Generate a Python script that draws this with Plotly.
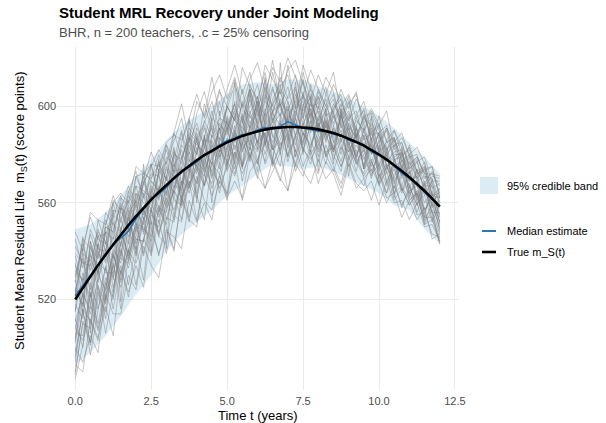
import plotly.graph_objects as go

# ---------------- data ----------------
t_grid = [0.0, 0.25, 0.5, 0.75, 1.0, 1.25, 1.5, 1.75, 2.0, 2.25, 2.5, 2.75,
          3.0, 3.25, 3.5, 3.75, 4.0, 4.25, 4.5, 4.75, 5.0, 5.25, 5.5, 5.75,
          6.0, 6.25, 6.5, 6.75, 7.0, 7.25, 7.5, 7.75, 8.0, 8.25, 8.5, 8.75,
          9.0, 9.25, 9.5, 9.75, 10.0, 10.25, 10.5, 10.75, 11.0, 11.25, 11.5,
          11.75, 12.0]

true_mrl = [520.0, 524.9, 529.7, 534.2, 538.6, 542.8, 546.9, 550.7, 554.4, 557.9,
            561.3, 564.4, 567.4, 570.2, 572.9, 575.3, 577.6, 579.7, 581.7, 583.4,
            585.0, 586.4, 587.7, 588.7, 589.6, 590.3, 590.9, 591.2, 591.4, 591.4,
            591.3, 590.9, 590.4, 589.7, 588.9, 587.8, 586.6, 585.2, 583.7, 581.9,
            580.0, 577.9, 575.7, 573.2, 570.6, 567.8, 564.9, 561.7, 558.4]

median_est = [521.5, 525.9, 530.2, 534.2, 538.1, 543.1, 545.4, 548.2, 553.4, 557.4,
              561.5, 563.6, 566.4, 569.9, 573.3, 574.8, 576.8, 579.9, 581.0, 583.9,
              585.8, 586.7, 588.3, 588.3, 590.1, 591.1, 590.6, 591.6, 593.6, 592.2,
              591.0, 590.4, 589.6, 589.9, 588.4, 588.1, 586.0, 585.0, 584.0, 581.1,
              579.7, 578.1, 575.2, 572.3, 570.2, 568.1, 564.3, 561.5, 558.7]

t_band = [0.0, 0.5, 1.0, 1.5, 2.0, 2.5, 3.0, 3.5, 4.0, 4.5, 5.0, 5.5, 6.0, 6.5,
          7.0, 7.5, 8.0, 8.5, 9.0, 9.5, 10.0, 10.5, 11.0, 11.5, 12.0]
band_lower = [493, 498, 505, 513, 522, 530, 540, 547, 552, 557, 563, 567, 572, 576,
              575, 574, 575, 573, 570, 567, 564, 559, 557, 549, 543]
band_upper = [549, 551, 556, 563, 571, 578, 586, 592, 596, 600, 605, 609, 610, 609,
              611, 611, 608, 606, 603, 600, 596, 591, 585, 579, 572]

draw_01 = [525, 517, 542, 531, 548, 529, 549, 558, 548, 569, 559, 555, 571, 583, 568, 576, 568, 586, 585, 576, 595, 585, 596, 577, 595, 604, 587, 593, 583, 600, 588, 597, 579, 594, 587, 598, 581, 588, 575, 589, 581, 573, 584, 570, 575, 561, 567, 567, 554]
draw_02 = [502, 519, 510, 530, 524, 541, 535, 554, 545, 544, 566, 558, 556, 572, 565, 584, 574, 567, 588, 581, 596, 589, 583, 605, 592, 583, 603, 609, 588, 599, 605, 589, 600, 585, 596, 589, 579, 591, 581, 591, 574, 580, 566, 578, 569, 571, 557, 563, 552]
draw_03 = [542, 535, 534, 549, 540, 552, 542, 563, 557, 551, 569, 565, 577, 566, 579, 566, 581, 591, 580, 591, 579, 590, 601, 590, 599, 587, 598, 581, 596, 593, 585, 602, 593, 586, 597, 586, 592, 578, 590, 581, 589, 575, 580, 580, 566, 574, 566, 559, 566]
draw_04 = [512, 500, 527, 516, 529, 521, 548, 537, 551, 550, 544, 566, 558, 565, 560, 578, 572, 588, 570, 587, 582, 596, 581, 591, 602, 585, 597, 592, 600, 587, 606, 594, 582, 597, 586, 577, 589, 579, 588, 573, 581, 584, 569, 575, 567, 559, 568, 556, 556]
draw_05 = [530, 543, 532, 542, 553, 542, 553, 543, 564, 560, 556, 573, 570, 564, 584, 579, 575, 587, 598, 585, 594, 582, 593, 607, 598, 611, 594, 603, 598, 607, 592, 601, 594, 603, 588, 594, 598, 587, 593, 580, 585, 590, 577, 581, 574, 578, 563, 569, 569]
draw_06 = [490, 510, 508, 526, 512, 538, 531, 540, 552, 539, 555, 552, 568, 555, 569, 566, 583, 567, 579, 585, 574, 590, 582, 587, 576, 593, 582, 586, 595, 579, 589, 584, 593, 580, 585, 590, 578, 584, 578, 585, 570, 575, 577, 565, 573, 562, 553, 559, 550]
draw_07 = [523, 537, 524, 553, 543, 554, 563, 549, 567, 565, 562, 578, 564, 578, 590, 577, 589, 576, 588, 602, 590, 601, 589, 598, 584, 598, 608, 595, 617, 599, 602, 590, 604, 596, 598, 585, 595, 598, 586, 589, 592, 577, 581, 582, 569, 572, 574, 563, 564]
draw_08 = [508, 523, 514, 527, 541, 525, 538, 555, 541, 557, 551, 567, 553, 566, 575, 564, 577, 573, 583, 574, 587, 574, 585, 594, 585, 589, 578, 593, 584, 595, 582, 592, 586, 576, 592, 582, 591, 577, 582, 570, 582, 569, 575, 577, 564, 569, 560, 565, 548]
draw_09 = [535, 521, 538, 535, 532, 549, 559, 546, 556, 568, 576, 561, 574, 571, 564, 587, 584, 581, 576, 593, 588, 599, 594, 584, 604, 592, 598, 601, 589, 596, 611, 597, 591, 599, 605, 592, 583, 595, 589, 583, 575, 586, 579, 567, 577, 570, 575, 558, 561]
draw_10 = [498, 515, 502, 520, 533, 523, 544, 536, 546, 557, 549, 559, 551, 567, 566, 576, 564, 578, 573, 568, 584, 578, 589, 579, 586, 577, 592, 584, 589, 575, 586, 594, 581, 589, 578, 586, 581, 588, 574, 578, 567, 575, 569, 558, 567, 559, 566, 555, 545]
draw_11 = [527, 545, 541, 537, 556, 551, 548, 564, 573, 562, 570, 580, 569, 580, 578, 589, 585, 579, 593, 586, 600, 594, 607, 591, 602, 596, 614, 600, 593, 605, 595, 609, 597, 591, 599, 603, 592, 587, 596, 588, 589, 592, 578, 579, 583, 572, 573, 575, 562]
draw_12 = [515, 531, 518, 543, 535, 546, 530, 544, 560, 547, 563, 546, 561, 574, 561, 572, 586, 572, 584, 578, 591, 577, 591, 588, 600, 584, 595, 580, 599, 588, 593, 581, 596, 588, 581, 593, 584, 573, 588, 577, 586, 568, 578, 571, 579, 562, 568, 553, 563]
draw_13 = [506, 505, 523, 510, 527, 539, 528, 550, 539, 552, 563, 554, 562, 553, 574, 567, 574, 587, 571, 582, 577, 592, 574, 592, 585, 599, 588, 582, 597, 592, 584, 599, 588, 594, 582, 587, 596, 580, 585, 575, 584, 576, 568, 576, 565, 567, 556, 564, 555]
draw_14 = [545, 533, 547, 537, 551, 563, 553, 561, 553, 573, 569, 565, 579, 575, 582, 573, 591, 584, 592, 584, 582, 597, 593, 603, 593, 608, 600, 596, 604, 613, 597, 593, 606, 598, 592, 599, 588, 592, 599, 585, 588, 579, 587, 578, 572, 577, 568, 573, 564]
draw_15 = [518, 512, 535, 525, 519, 540, 537, 535, 550, 549, 546, 557, 571, 561, 559, 574, 568, 583, 576, 591, 576, 584, 576, 590, 582, 592, 585, 595, 577, 588, 596, 580, 586, 592, 582, 596, 585, 576, 580, 584, 572, 564, 572, 574, 561, 565, 551, 557, 547]
draw_16 = [532, 528, 549, 541, 540, 557, 556, 553, 571, 563, 572, 571, 563, 581, 576, 591, 586, 592, 583, 589, 600, 594, 591, 600, 609, 595, 601, 606, 595, 602, 598, 604, 591, 598, 603, 591, 597, 591, 583, 593, 588, 582, 586, 574, 580, 573, 567, 571, 570]
draw_17 = [494, 516, 511, 503, 527, 520, 540, 533, 545, 544, 558, 548, 559, 569, 562, 569, 562, 576, 573, 584, 573, 581, 575, 586, 581, 589, 575, 585, 580, 588, 583, 576, 588, 581, 583, 575, 583, 577, 571, 577, 571, 576, 564, 567, 561, 564, 554, 554, 543]
draw_18 = [521, 539, 536, 531, 548, 545, 562, 559, 552, 564, 557, 574, 584, 573, 574, 585, 593, 583, 595, 592, 589, 602, 598, 596, 591, 602, 598, 607, 602, 592, 604, 600, 601, 588, 601, 595, 602, 588, 595, 592, 582, 591, 582, 585, 575, 579, 572, 561, 563]
draw_19 = [511, 522, 516, 540, 531, 531, 543, 553, 543, 553, 565, 556, 565, 557, 568, 581, 575, 571, 586, 579, 586, 579, 597, 583, 592, 580, 592, 597, 586, 595, 581, 593, 598, 587, 590, 580, 593, 586, 575, 587, 576, 579, 570, 580, 573, 563, 569, 559, 559]
draw_20 = [538, 526, 539, 548, 544, 537, 558, 555, 561, 571, 560, 572, 577, 589, 579, 586, 580, 594, 587, 595, 593, 587, 602, 595, 600, 606, 593, 602, 597, 600, 604, 595, 607, 600, 593, 601, 589, 594, 590, 595, 581, 585, 587, 577, 580, 569, 571, 570, 560]
draw_21 = [503, 529, 521, 533, 518, 535, 550, 538, 548, 563, 552, 550, 564, 576, 563, 570, 587, 574, 568, 581, 592, 576, 587, 582, 598, 587, 582, 594, 579, 598, 589, 583, 595, 579, 591, 584, 577, 589, 579, 571, 583, 572, 575, 564, 573, 560, 563, 552, 559]
draw_22 = [529, 541, 554, 545, 543, 561, 557, 567, 560, 570, 581, 573, 582, 572, 585, 594, 587, 593, 602, 590, 599, 609, 599, 607, 596, 605, 600, 612, 603, 608, 596, 605, 599, 608, 595, 600, 605, 595, 598, 586, 592, 586, 590, 583, 576, 579, 572, 572, 567]
draw_23 = [487, 501, 518, 507, 521, 534, 525, 540, 535, 545, 557, 547, 557, 565, 558, 567, 576, 567, 576, 572, 582, 572, 582, 588, 578, 585, 576, 583, 588, 573, 582, 578, 584, 580, 573, 583, 575, 582, 570, 574, 568, 573, 561, 566, 559, 564, 551, 553, 544]
draw_24 = [524, 518, 544, 530, 550, 548, 538, 560, 567, 555, 567, 562, 575, 563, 578, 587, 573, 583, 591, 581, 591, 598, 584, 597, 604, 584, 594, 601, 592, 584, 600, 607, 589, 595, 585, 596, 588, 579, 591, 580, 589, 574, 579, 581, 569, 571, 577, 563, 562]
draw_25 = [493, 490, 512, 504, 517, 505, 532, 523, 534, 525, 549, 539, 549, 540, 563, 553, 550, 572, 563, 571, 561, 581, 572, 580, 570, 587, 577, 569, 584, 576, 589, 579, 572, 584, 575, 568, 579, 572, 567, 577, 568, 560, 567, 559, 565, 555, 556, 547, 546]
draw_26 = [548, 540, 556, 553, 551, 560, 564, 560, 575, 572, 576, 575, 585, 588, 586, 595, 605, 595, 606, 613, 603, 612, 600, 611, 618, 606, 616, 610, 620, 612, 604, 615, 607, 600, 609, 602, 594, 603, 596, 597, 586, 591, 585, 589, 579, 580, 570, 572, 571]
draw_27 = [515, 541, 506, 543, 520, 557, 519, 557, 538, 576, 540, 574, 541, 582, 559, 595, 560, 588, 560, 598, 575, 610, 575, 606, 582, 612, 576, 618, 585, 610, 580, 604, 573, 599, 576, 599, 571, 592, 574, 596, 568, 583, 562, 583, 562, 574, 554, 570, 551]
draw_28 = [500, 494, 505, 498, 522, 514, 514, 530, 524, 542, 534, 529, 548, 546, 541, 561, 552, 560, 553, 572, 562, 569, 562, 581, 571, 566, 578, 570, 565, 582, 573, 568, 578, 570, 574, 566, 577, 568, 565, 569, 559, 569, 560, 561, 553, 560, 550, 551, 544]
draw_29 = [528, 515, 544, 530, 550, 548, 560, 549, 571, 572, 570, 576, 570, 589, 601, 586, 602, 596, 612, 596, 607, 617, 605, 614, 600, 617, 611, 605, 615, 619, 609, 602, 613, 605, 597, 607, 599, 606, 590, 598, 590, 581, 590, 580, 582, 570, 574, 575, 562]
draw_30 = [489, 511, 502, 525, 506, 523, 541, 526, 542, 528, 557, 546, 543, 563, 553, 573, 563, 553, 577, 566, 575, 589, 569, 583, 576, 595, 582, 588, 602, 579, 593, 599, 584, 594, 581, 597, 584, 591, 574, 584, 573, 581, 564, 572, 563, 569, 552, 560, 549]
draw_31 = [539, 535, 536, 546, 547, 555, 552, 565, 558, 568, 575, 582, 576, 586, 595, 580, 597, 606, 593, 606, 600, 594, 616, 608, 603, 614, 597, 608, 613, 600, 617, 607, 601, 612, 606, 593, 601, 605, 593, 599, 592, 598, 583, 587, 580, 583, 576, 566, 568]
draw_32 = [508, 503, 522, 508, 524, 539, 527, 541, 526, 545, 539, 558, 550, 541, 562, 552, 571, 561, 557, 569, 564, 577, 561, 573, 578, 566, 573, 581, 565, 576, 571, 582, 568, 577, 572, 563, 576, 566, 570, 561, 572, 562, 564, 554, 561, 553, 558, 545, 547]
draw_33 = [522, 546, 521, 547, 536, 560, 548, 539, 564, 553, 576, 563, 584, 577, 567, 588, 580, 601, 590, 579, 601, 611, 594, 607, 592, 603, 619, 600, 608, 595, 614, 603, 591, 605, 614, 596, 604, 586, 596, 586, 596, 585, 587, 574, 584, 573, 575, 563, 566]
draw_34 = [504, 522, 501, 523, 515, 535, 516, 537, 552, 538, 552, 538, 554, 552, 569, 554, 567, 579, 566, 576, 563, 588, 575, 583, 573, 597, 583, 575, 595, 581, 601, 586, 577, 593, 580, 573, 588, 578, 572, 586, 574, 564, 578, 565, 568, 556, 566, 556, 543]
draw_35 = [534, 527, 539, 527, 544, 528, 558, 548, 561, 548, 564, 577, 559, 574, 589, 573, 587, 574, 596, 607, 592, 601, 587, 609, 601, 593, 607, 599, 592, 603, 610, 596, 604, 588, 599, 605, 590, 596, 602, 589, 593, 580, 584, 585, 574, 577, 579, 568, 559]
draw_36 = [496, 516, 497, 516, 534, 516, 534, 521, 537, 554, 538, 553, 539, 555, 552, 569, 553, 568, 580, 564, 577, 571, 585, 578, 592, 576, 584, 592, 579, 587, 575, 583, 593, 579, 584, 575, 585, 576, 583, 572, 576, 567, 574, 566, 559, 565, 557, 561, 552]

draws = [draw_01, draw_02, draw_03, draw_04, draw_05, draw_06, draw_07, draw_08,
         draw_09, draw_10, draw_11, draw_12, draw_13, draw_14, draw_15, draw_16,
         draw_17, draw_18, draw_19, draw_20, draw_21, draw_22, draw_23, draw_24,
         draw_25, draw_26, draw_27, draw_28, draw_29, draw_30, draw_31, draw_32,
         draw_33, draw_34, draw_35, draw_36]

x_ticks = [0, 2.5, 5, 7.5, 10, 12.5]
x_tick_labels = ["0.0", "2.5", "5.0", "7.5", "10.0", "12.5"]
y_ticks = [520, 560, 600]

title_text = "<b>Student MRL Recovery under Joint Modeling</b>"
subtitle_text = "BHR, n = 200 teachers, .c = 25% censoring"
legend_labels = ["95% credible band", "Median estimate", "True m_S(t)"]

# ---------------- styles ----------------
FONT = "Liberation Sans, Arial, Helvetica, sans-serif"
BAND_FILL = "rgba(107,174,214,0.24)"
GREY = "rgba(120,120,120,0.62)"
BLUE = "#2878b8"

fig = go.Figure()

# credible band polygon (upper forward, lower back)
fig.add_trace(go.Scatter(
    x=t_band + t_band[::-1],
    y=band_upper + band_lower[::-1],
    fill="toself", fillcolor=BAND_FILL, line=dict(width=0),
    mode="lines", hoverinfo="skip", showlegend=False))

# posterior draws, one line each
for d in draws:
    fig.add_trace(go.Scatter(x=t_grid, y=d, mode="lines",
                             line=dict(color=GREY, width=0.7),
                             hoverinfo="skip", showlegend=False))

fig.add_trace(go.Scatter(x=t_grid, y=median_est, mode="lines",
                         line=dict(color=BLUE, width=1.6), showlegend=False))
fig.add_trace(go.Scatter(x=t_grid, y=true_mrl, mode="lines",
                         line=dict(color="black", width=2.6), showlegend=False))

# panel: x px 57..458, y px 47..390
L, R, T, B = 57, 148, 47, 33
PW, PH = 606 - L - R, 423 - T - B


def px_x(p):
    return (p - L) / PW


def px_y(p):
    return (T + PH - p) / PH


ann = []
ann.append(dict(text=title_text, x=px_x(57), y=px_y(12), xref="paper", yref="paper",
                xanchor="left", yanchor="middle", showarrow=False,
                font=dict(family=FONT, size=15, color="black")))
ann.append(dict(text=subtitle_text, x=px_x(57), y=px_y(32), xref="paper", yref="paper",
                xanchor="left", yanchor="middle", showarrow=False,
                font=dict(family=FONT, size=13, color="#4d4d4d")))
ann.append(dict(text="Time t (years)", x=0.5, y=px_y(415), xref="paper", yref="paper",
                xanchor="center", yanchor="middle", showarrow=False,
                font=dict(family=FONT, size=13, color="black")))
ann.append(dict(text="Student Mean Residual Life  m<sub>S</sub>(t) (score points)",
                x=px_x(20), y=px_y(211), xref="paper", yref="paper", textangle=-90,
                xanchor="center", yanchor="middle", showarrow=False,
                font=dict(family=FONT, size=13, color="black")))

# legend (drawn manually to mimic ggplot keys)
shapes = []
shapes.append(dict(type="rect", xref="paper", yref="paper",
                   x0=px_x(480), x1=px_x(498), y0=px_y(194), y1=px_y(177),
                   fillcolor=BAND_FILL, line=dict(width=0)))
shapes.append(dict(type="line", xref="paper", yref="paper",
                   x0=px_x(482), x1=px_x(496), y0=px_y(231), y1=px_y(231),
                   line=dict(color=BLUE, width=2)))
shapes.append(dict(type="line", xref="paper", yref="paper",
                   x0=px_x(482), x1=px_x(496), y0=px_y(252), y1=px_y(252),
                   line=dict(color="black", width=2.6)))
for lab, ypx in zip(legend_labels, [186, 231, 252]):
    ann.append(dict(text=lab, x=px_x(505), y=px_y(ypx), xref="paper", yref="paper",
                    xanchor="left", yanchor="middle", showarrow=False,
                    font=dict(family=FONT, size=11, color="black")))

fig.update_layout(
    width=606, height=423,
    margin=dict(l=L, r=R, t=T, b=B),
    paper_bgcolor="white", plot_bgcolor="white",
    showlegend=False,
    font=dict(family=FONT, size=11, color="#4d4d4d"),
    annotations=ann, shapes=shapes,
    xaxis=dict(range=[-0.6, 12.6], tickvals=x_ticks, ticktext=x_tick_labels,
               showgrid=True, gridcolor="#ebebeb", gridwidth=1, zeroline=False,
               showline=False, ticks="", ticklabelstandoff=3,
               tickfont=dict(size=11, color="#4d4d4d")),
    yaxis=dict(range=[482.5, 624.5], tickvals=y_ticks,
               showgrid=True, gridcolor="#ebebeb", gridwidth=1, zeroline=False,
               showline=False, ticks="", tickfont=dict(size=11, color="#4d4d4d")),
)

fig.write_html("out.html", config={"displayModeBar": False},
               post_script="document.body.style.margin='0';"
                           "document.body.style.overflow='hidden';")
